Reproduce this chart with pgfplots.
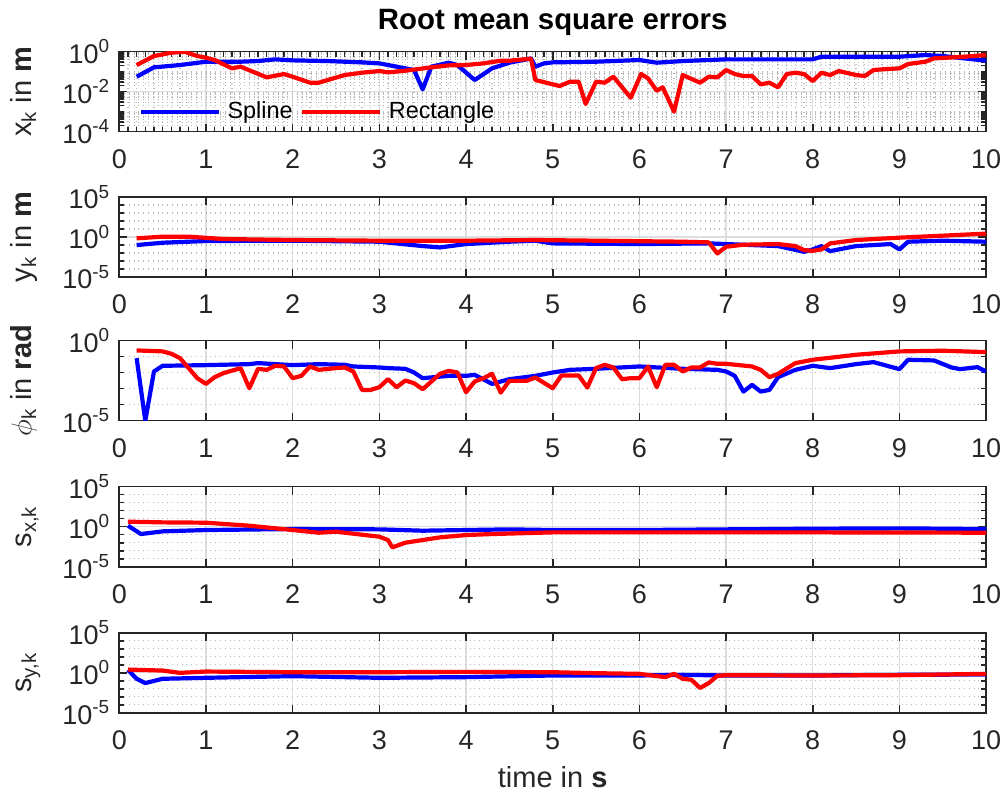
\documentclass[border=0pt]{standalone}
\usepackage{fontspec}
\setmainfont{Liberation Sans}
\usepackage{pgfplots}
\pgfplotsset{compat=1.18}

\definecolor{axisgray}{RGB}{38,38,38}
\definecolor{gridgray}{RGB}{222,222,222}
\definecolor{minorgray}{RGB}{185,185,185}

\pgfplotsset{
  every axis/.append style={
    scale only axis, width=433.4pt, height=40pt, anchor=south west,
    xmin=0, xmax=10, xtick={0,1,...,10},
    /pgf/number format/assume math mode=true,
    axis line style={axisgray, line width=0.8pt},
    major tick length=4pt, minor tick length=2.5pt,
    tick align=inside,
    xmajorgrids, ymajorgrids, yminorgrids,
    major grid style={gridgray, line width=0.6pt},
    minor grid style={minorgray, dotted, line width=0.6pt},
    tick style={axisgray, line width=0.8pt},
    tick label style={font=\fontsize{13.5}{16}\selectfont, text=axisgray},
    xticklabel style={yshift=-5.5pt},
    yticklabel style={xshift=-1pt},
    label style={font=\fontsize{14.5}{17}\selectfont, text=axisgray},
    ylabel style={at={([xshift=-44pt]axis description cs:0,0.5)}, anchor=base},
  },
  every axis plot/.append style={line width=2.1pt, line join=round},
}

\begin{document}
\begin{tikzpicture}
\useasboundingbox (0,0) rectangle (501.5pt,397pt);

\node[font=\bfseries\fontsize{14.7}{17}\selectfont, anchor=base] at (276.35pt,382pt) {Root mean square errors};

% x_k
\begin{axis}[at={(59.65pt,331.15pt)},
  ymode=log, ymin=1e-4, ymax=1,
  ytick={1e-4,1e-2,1},
  yticklabels={10\textsuperscript{-4},10\textsuperscript{-2},10\textsuperscript{0}},
  minor ytick={2e-4,3e-4,4e-4,5e-4,6e-4,7e-4,8e-4,9e-4,
               1e-3,2e-3,3e-3,4e-3,5e-3,6e-3,7e-3,8e-3,9e-3,
               2e-2,3e-2,4e-2,5e-2,6e-2,7e-2,8e-2,9e-2,
               1e-1,2e-1,3e-1,4e-1,5e-1,6e-1,7e-1,8e-1,9e-1},
  minor x tick num=9, xminorgrids,
  ylabel={x\textsubscript{k} in \textbf{m}},
  legend columns=-1,
  legend style={draw=none, fill=none, at={(0.0216,0.246)}, anchor=west,
    inner sep=0pt, font=\fontsize{11.7}{14}\selectfont,
    nodes={inner xsep=3.5pt, inner ysep=0pt}},
  legend image code/.code={\draw[#1] (0pt,0pt) -- (39pt,0pt);},
]
\addplot[blue] coordinates {
(0.2,0.0562)(0.4,0.165)(0.7,0.215)(1.0,0.316)(1.4,0.316)(1.6,0.341)(1.8,0.414)
(2.0,0.369)(2.4,0.341)(2.8,0.293)(3.0,0.261)(3.3,0.147)(3.4,0.121)(3.5,0.0131)
(3.6,0.178)(3.8,0.282)(3.9,0.215)(4.1,0.0383)(4.3,0.147)(4.5,0.282)(4.7,0.414)
(4.75,0.464)(4.8,0.178)(4.9,0.261)(5.0,0.293)(5.5,0.316)(6.0,0.383)(6.2,0.282)
(6.5,0.341)(7.0,0.414)(7.5,0.414)(8.0,0.414)(8.1,0.562)(8.5,0.562)(9.0,0.562)
(9.3,0.681)(9.5,0.607)(10,0.355)};
\addlegendentry{Spline\hspace{3.5pt}}
\addplot[red] coordinates {
(0.2,0.215)(0.4,0.607)(0.6,0.891)(0.75,1.0)(0.9,0.607)(1.0,0.501)(1.1,0.383)
(1.3,0.147)(1.4,0.178)(1.7,0.0521)(1.9,0.0764)(2.0,0.0562)(2.2,0.0282)(2.3,0.0282)
(2.6,0.0681)(2.8,0.0891)(3.0,0.108)(3.1,0.0926)(3.3,0.112)(3.6,0.165)(3.8,0.207)
(4.0,0.215)(4.2,0.261)(4.4,0.355)(4.5,0.355)(4.75,0.447)(4.8,0.0383)(5.08,0.0192)
(5.2,0.0316)(5.3,0.0316)(5.38,0.00242)(5.5,0.0316)(5.6,0.0282)(5.7,0.0562)
(5.9,0.00501)(6.02,0.0764)(6.1,0.0464)(6.2,0.0112)(6.27,0.0165)(6.4,0.001)
(6.5,0.0681)(6.7,0.0282)(6.8,0.0562)(6.9,0.0521)(7.0,0.121)(7.1,0.0764)
(7.2,0.0607)(7.3,0.0607)(7.4,0.0233)(7.5,0.0282)(7.6,0.0165)(7.7,0.0764)
(7.8,0.0891)(7.9,0.0764)(8.0,0.0341)(8.1,0.0891)(8.2,0.0681)(8.3,0.108)
(8.5,0.0681)(8.6,0.0607)(8.7,0.121)(8.8,0.131)(9.0,0.147)(9.1,0.242)(9.3,0.316)
(9.4,0.464)(9.55,0.501)(9.75,0.562)(10,0.681)};
\addlegendentry{Rectangle}
\end{axis}

% y_k
\begin{axis}[at={(59.65pt,258.5pt)},
  ymode=log, ymin=1e-5, ymax=1e5,
  ytick={1e-5,1,1e5},
  yticklabels={10\textsuperscript{-5},10\textsuperscript{0},10\textsuperscript{5}},
  minor ytick={1e-4,1e-3,1e-2,1e-1,1e1,1e2,1e3,1e4},
  ylabel={y\textsubscript{k} in \textbf{m}}]
\addplot[blue] coordinates {
(0.2,0.098)(0.5,0.193)(1.0,0.313)(2.0,0.345)(3.0,0.258)(3.5,0.0734)(3.7,0.0498)
(4.0,0.131)(4.5,0.258)(4.8,0.345)(5.0,0.159)(6.0,0.131)(6.8,0.159)(7.0,0.131)
(7.4,0.089)(7.6,0.0734)(7.9,0.0142)(8.0,0.0279)(8.1,0.0734)(8.2,0.0172)
(8.5,0.0734)(8.9,0.131)(9.0,0.0279)(9.1,0.258)(9.5,0.345)(10,0.258)};
\addplot[red] coordinates {
(0.2,0.679)(0.5,1.10)(0.8,1.10)(1.2,0.56)(2.0,0.419)(3.0,0.345)(4.0,0.345)
(4.8,0.419)(5.5,0.345)(6.5,0.258)(6.8,0.213)(6.9,0.0087)(7.0,0.0605)(7.2,0.108)
(7.6,0.131)(7.8,0.0734)(7.9,0.023)(8.0,0.0189)(8.1,0.0279)(8.2,0.159)(8.5,0.419)
(9.0,0.824)(9.5,1.47)(10,2.63)};
\end{axis}

% phi_k
\begin{axis}[at={(59.65pt,186.65pt)},
  ymode=log, ymin=1e-5, ymax=1,
  ytick={1e-5,1},
  yticklabels={10\textsuperscript{-5},10\textsuperscript{0}},
  minor ytick={1e-4,1e-3,1e-2,1e-1},
  ylabel={$\phi$\textsubscript{k} in \textbf{rad}}]
\addplot[blue] coordinates {
(0.2,0.0817)(0.3,1e-5)(0.4,0.0119)(0.5,0.027)(1.0,0.0297)(1.5,0.0343)(1.6,0.0397)
(2.0,0.0297)(2.3,0.0343)(2.6,0.0312)(2.7,0.0245)(3.0,0.0212)(3.1,0.0193)
(3.3,0.0175)(3.4,0.0103)(3.5,0.00454)(3.8,0.00636)(4.0,0.00636)(4.1,0.00735)
(4.3,0.002)(4.5,0.00393)(4.8,0.00636)(5.0,0.0103)(5.2,0.0151)(5.5,0.0175)
(6.0,0.0245)(6.5,0.0175)(6.9,0.0151)(7.0,0.0119)(7.1,0.00636)(7.2,0.00066)
(7.3,0.00173)(7.4,0.00066)(7.5,0.00084)(7.6,0.00525)(7.8,0.0151)(8.0,0.027)
(8.2,0.0193)(8.5,0.0343)(8.7,0.0458)(9.0,0.0167)(9.1,0.0643)(9.4,0.0583)
(9.6,0.0212)(9.7,0.0167)(9.9,0.0222)(10,0.0119)};
\addplot[red] coordinates {
(0.2,0.247)(0.5,0.214)(0.6,0.153)(0.7,0.0817)(0.9,0.00454)(1.0,0.002)(1.1,0.00525)
(1.2,0.00935)(1.4,0.0193)(1.5,0.00107)(1.6,0.0175)(1.7,0.0151)(1.8,0.027)
(1.9,0.0245)(2.0,0.00454)(2.1,0.00636)(2.2,0.0245)(2.3,0.0151)(2.5,0.0193)
(2.6,0.0212)(2.7,0.0119)(2.8,0.00084)(2.9,0.00084)(3.0,0.00124)(3.1,0.00393)
(3.2,0.00124)(3.3,0.00324)(3.4,0.0022)(3.5,0.00093)(3.6,0.0028)(3.7,0.0085)
(3.8,0.0131)(3.9,0.0103)(4.0,0.0006)(4.1,0.0028)(4.2,0.00454)(4.3,0.0085)
(4.4,0.00057)(4.5,0.00309)(4.7,0.00309)(4.8,0.00501)(5.0,0.00107)(5.1,0.00667)
(5.3,0.00667)(5.4,0.00118)(5.5,0.0193)(5.6,0.0312)(5.7,0.0212)(5.8,0.00393)
(5.9,0.00454)(6.0,0.00454)(6.1,0.0245)(6.2,0.00124)(6.3,0.0312)(6.4,0.0312)
(6.5,0.0119)(6.6,0.0212)(6.7,0.0212)(6.8,0.0437)(6.9,0.036)(7.0,0.036)
(7.3,0.0245)(7.4,0.0151)(7.5,0.00525)(7.6,0.0085)(7.8,0.0397)(8.0,0.0643)
(8.5,0.132)(9.0,0.214)(9.5,0.236)(10,0.194)};
\end{axis}

% s_x,k
\begin{axis}[at={(59.65pt,113.65pt)},
  ymode=log, ymin=1e-5, ymax=1e5,
  ytick={1e-5,1,1e5},
  yticklabels={10\textsuperscript{-5},10\textsuperscript{0},10\textsuperscript{5}},
  minor ytick={1e-4,1e-3,1e-2,1e-1,1e1,1e2,1e3,1e4},
  ylabel={s\textsubscript{x,k}}]
\addplot[blue] coordinates {
(0.1,1.33)(0.25,0.121)(0.5,0.261)(1.0,0.383)(2.0,0.511)(3.0,0.464)(3.5,0.316)
(4.0,0.383)(4.5,0.464)(5.0,0.383)(6.0,0.383)(7.0,0.464)(8.0,0.562)(9.0,0.619)
(10,0.511)};
\addplot[red] coordinates {
(0.1,4.22)(0.5,3.48)(1.0,3.16)(1.5,1.33)(2.0,0.383)(2.3,0.178)(2.5,0.237)
(3.0,0.0562)(3.1,0.0215)(3.15,0.00261)(3.3,0.01)(3.5,0.0215)(3.7,0.0464)
(4.0,0.0908)(4.3,0.121)(5.0,0.196)(6.0,0.196)(8.0,0.196)(10,0.178)};
\end{axis}

% s_y,k
\begin{axis}[at={(59.65pt,40.65pt)},
  ymode=log, ymin=1e-5, ymax=1e5,
  ytick={1e-5,1,1e5},
  yticklabels={10\textsuperscript{-5},10\textsuperscript{0},10\textsuperscript{5}},
  minor ytick={1e-4,1e-3,1e-2,1e-1,1e1,1e2,1e3,1e4},
  ylabel={s\textsubscript{y,k}},
  xlabel={time in \textbf{s}},
  xlabel style={at={([yshift=-37.2pt]axis description cs:0.5,0)}, anchor=base}]
\addplot[blue] coordinates {
(0.1,2.24)(0.2,0.173)(0.3,0.0506)(0.5,0.173)(1.0,0.23)(2.0,0.37)(3.0,0.23)
(4.0,0.278)(5.0,0.447)(6.0,0.447)(6.5,0.541)(7.0,0.447)(8.0,0.447)(9.0,0.541)
(10,0.594)};
\addplot[red] coordinates {
(0.1,2.46)(0.5,1.85)(0.7,0.955)(1.0,1.39)(2.0,1.15)(3.0,1.15)(4.0,1.27)(5.0,1.15)
(5.5,0.868)(6.0,0.718)(6.3,0.278)(6.4,0.718)(6.5,0.173)(6.6,0.130)(6.7,0.0122)
(6.8,0.0506)(6.9,0.406)(7.0,0.491)(8.0,0.447)(9.0,0.491)(10,0.718)};
\end{axis}
\end{tikzpicture}
\end{document}
